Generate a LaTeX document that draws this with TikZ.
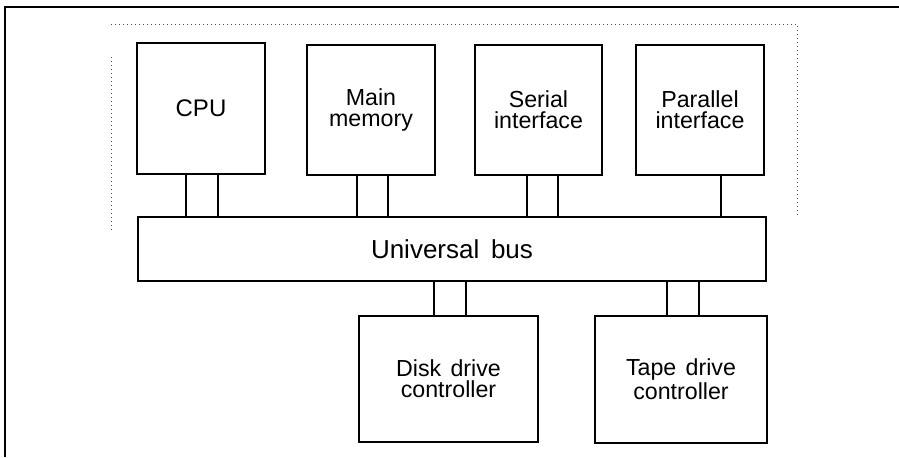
\documentclass[tikz,border=0pt]{standalone}
\usepackage{fontspec}
\setmainfont{Liberation Sans}
\usetikzlibrary{positioning,calc}

\tikzset{
  unit/.style={draw,line width=0.7pt,align=center,inner sep=0pt,
               font=\fontsize{11.6}{10.6}\selectfont},
  link/.style={line width=0.6pt},
  scanmark/.style={line width=0.5pt,black!70,dash pattern=on 0.5pt off 1.5pt}
}

\begin{document}
\begin{tikzpicture}[x=0.5pt,y=-0.5pt]
  \useasboundingbox (0,0) rectangle (899,457);
  % page frame and faint marks
  \draw[line width=1pt] (5,457) |- (899,7);
  \draw[scanmark] (111,230) -- (111,55);
  \draw[scanmark] (111,24) -- (797,24) -- (797,215);

  % units above the bus
  \node[unit,minimum width=64pt,minimum height=65.5pt,
        font=\fontsize{12}{12}\selectfont] (cpu) at (201,108.5) {CPU};
  \node[unit,minimum width=64pt,minimum height=65pt] (mem) at (371,110)
    {Main\\memory};
  \node[unit,minimum width=63.5pt,minimum height=65pt] (ser) at (538.5,110)
    {Serial\\interface};
  \node[unit,minimum width=64pt,minimum height=65pt] (par) at (700,110)
    {Parallel\\interface};

  % the bus
  \node[unit,minimum width=314pt,minimum height=32pt,
        font=\fontsize{13}{13}\selectfont] (bus) at (452,249)
    {Universal\hspace{0.45em}bus};

  % units below the bus
  \node[unit,minimum width=89.5pt,minimum height=63pt] (disk) at (448.5,379)
    {Disk\hspace{0.4em}drive\\controller};
  \node[unit,minimum width=86pt,minimum height=63.5pt] (tape) at (681,379.5)
    {Tape\hspace{0.4em}drive\\controller};

  % connections
  \foreach \n/\d in {cpu/-7.5,cpu/8.5,mem/-7,mem/8.5,ser/-5.75,ser/9.75,par/10.5}
    \draw[link] ([xshift=\d pt]\n.south) -- ([xshift=\d pt]\n.south |- bus.north);
  \foreach \n/\d in {disk/-7.25,disk/8.75,tape/-7,tape/9}
    \draw[link] ([xshift=\d pt]\n.north) -- ([xshift=\d pt]\n.north |- bus.south);
\end{tikzpicture}
\end{document}
